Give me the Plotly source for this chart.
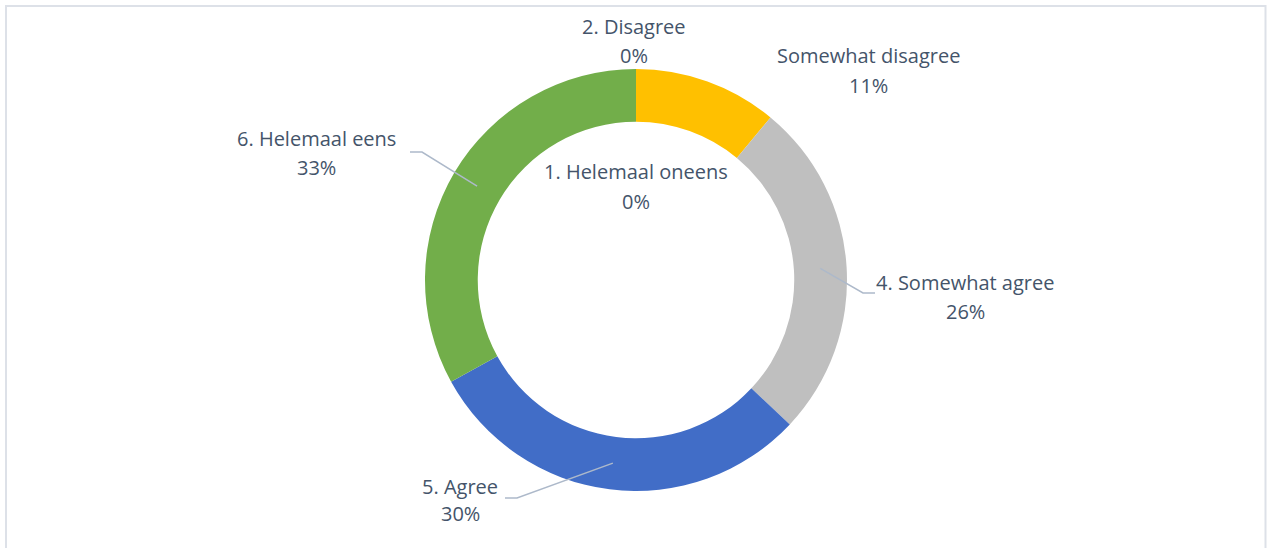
import math
import plotly.graph_objects as go

# Survey answer distribution (percent of respondents)
labels = ["1. Helemaal oneens", "2. Disagree", "Somewhat disagree",
          "4. Somewhat agree", "5. Agree", "6. Helemaal eens"]
values = [0, 0, 11, 26, 30, 33]
colors = ["#A5A5A5", "#ED7D31", "#FFC000", "#BFBFBF", "#416DC7", "#72AE4A"]

W, H = 1267, 548
CX, CY, R_OUT, HOLE = 636, 280, 211, 0.75
TEXT = "#44546A"
FONT = "Open Sans"
FONT_SIZE = 20


def px(x, y):
    """Pixel position -> paper coordinates."""
    return x / W, 1 - y / H


fig = go.Figure(go.Pie(
    labels=labels,
    values=values,
    hole=HOLE,
    sort=False,
    direction="clockwise",
    rotation=0,
    marker=dict(colors=colors, line=dict(color="white", width=0)),
    textinfo="none",
    hoverinfo="label+percent",
    showlegend=False,
    domain=dict(x=[(CX - R_OUT) / W, (CX + R_OUT) / W],
                y=[1 - (CY + R_OUT) / H, 1 - (CY - R_OUT) / H]),
))

total = sum(values)
pct = [f"{v / total:.0%}" for v in values]

# label placement: (center x, name line y, percent line y) in pixels
label_pos = {
    "1. Helemaal oneens": (636, 172, 201),
    "2. Disagree": (634, 26, 55),
    "Somewhat disagree": (869, 56, 85),
    "4. Somewhat agree": (965, 282, 311),
    "5. Agree": (460, 486, 513),
    "6. Helemaal eens": (316, 138, 167),
}

annotations = []
for name, p in zip(labels, pct):
    x, y1, y2 = label_pos[name]
    for txt, yy in ((name, y1), (p, y2)):
        ax, ay = px(x, yy)
        annotations.append(dict(
            x=ax, y=ay, xref="paper", yref="paper", text=txt, showarrow=False,
            xanchor="center", yanchor="middle",
            font=dict(family=FONT, size=FONT_SIZE, color=TEXT)))

# leader lines: start on the ring at each slice's mid-angle
leader_bends = {
    "4. Somewhat agree": [(863, 293), (875, 293)],
    "5. Agree": [(517, 498), (505, 498)],
    "6. Helemaal eens": [(422, 152), (410, 152)],
}
r_mid = R_OUT * (1 + HOLE) / 2
shapes = []
cum = 0
for name, v in zip(labels, values):
    mid = (cum + v / 2) / total * 2 * math.pi
    cum += v
    if name not in leader_bends:
        continue
    sx = CX + r_mid * math.sin(mid)
    sy = CY - r_mid * math.cos(mid)
    pts = [(sx, sy)] + leader_bends[name]
    path = "M " + " L ".join("{:.5f},{:.5f}".format(*px(a, b)) for a, b in pts)
    shapes.append(dict(type="path", path=path, xref="paper", yref="paper",
                       line=dict(color="#ADB9CA", width=1.5)))

# chart frame
fx0, fy0 = px(6, 6)
fx1, _ = px(1265.5, 0)
shapes.append(dict(type="rect", xref="paper", yref="paper",
                   x0=fx0, x1=fx1, y0=-0.05, y1=fy0,
                   line=dict(color="#DDE1E8", width=2), layer="below"))

fig.update_layout(
    width=W, height=H,
    margin=dict(l=0, r=0, t=0, b=0),
    paper_bgcolor="white",
    plot_bgcolor="white",
    annotations=annotations,
    shapes=shapes,
)

fig.write_html("out.html")
